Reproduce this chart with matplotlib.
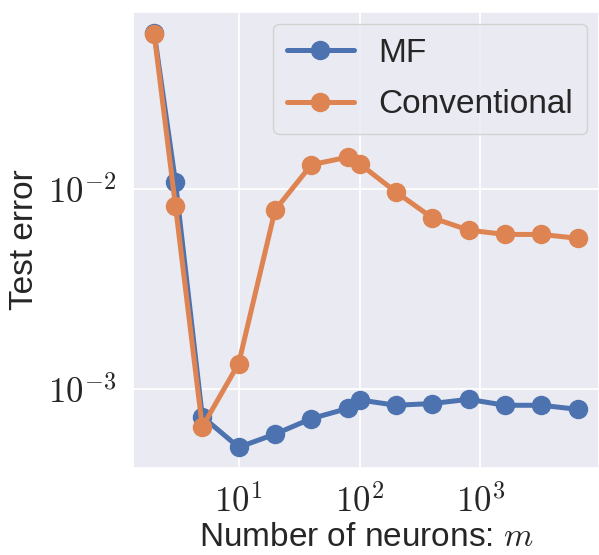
import matplotlib
matplotlib.use("Agg")
import numpy as np
import matplotlib.pyplot as plt
import matplotlib.ticker as mticker
import seaborn as sns

m_values = [2, 3, 5, 10, 20, 40, 80, 100, 200, 400, 800, 1600, 3200, 6400]
mf_error = [0.0607, 0.01087, 0.000731, 0.000513, 0.000597, 0.000714, 0.000802,
            0.000885, 0.000832, 0.000849, 0.000891, 0.000832, 0.000832, 0.000794]
conv_error = [0.0600, 0.00826, 0.000649, 0.001346, 0.00787, 0.01328, 0.01449,
              0.01343, 0.0097, 0.0072, 0.00625, 0.00595, 0.00595, 0.00569]
series_labels = ["MF", "Conventional"]

sns.set_theme(style="darkgrid")
plt.rcParams["font.family"] = ["Liberation Sans", "DejaVu Sans"]
plt.rcParams["mathtext.fontset"] = "cm"

fig = plt.figure(figsize=(5.99, 5.55), dpi=100)
ax = fig.add_axes([133 / 599, 87 / 555, 466 / 599, 456 / 555])

colors = sns.color_palette("deep")
ax.plot(m_values, mf_error, "-o", color=colors[0], lw=3.6, ms=13, label=series_labels[0])
ax.plot(m_values, conv_error, "-o", color=colors[1], lw=3.6, ms=13, label=series_labels[1])

ax.set_xscale("log")
ax.set_yscale("log")
ax.grid(True, which="major", color="white", lw=1.3)
ax.grid(False, which="minor")


def pow10_label(v, pos):
    if v <= 0:
        return ""
    e = int(np.round(np.log10(v)))
    return r"$10^{%d}$" % e


for axis in (ax.xaxis, ax.yaxis):
    axis.set_major_locator(mticker.LogLocator(base=10))
    axis.set_major_formatter(mticker.FuncFormatter(pow10_label))
    axis.set_minor_formatter(mticker.NullFormatter())

ax.tick_params(axis="both", which="major", labelsize=25, pad=6)
ax.tick_params(axis="both", which="minor", length=0)
ax.set_xlabel("Number of neurons: $m$", fontsize=24, labelpad=2)
ax.set_ylabel("Test error", fontsize=24, labelpad=6)

leg = ax.legend(loc="upper right", fontsize=24, handlelength=2.0,
                borderpad=0.42, labelspacing=0.62, handletextpad=0.75,
                borderaxespad=0.35)

fig.savefig("out.png", dpi=100)
